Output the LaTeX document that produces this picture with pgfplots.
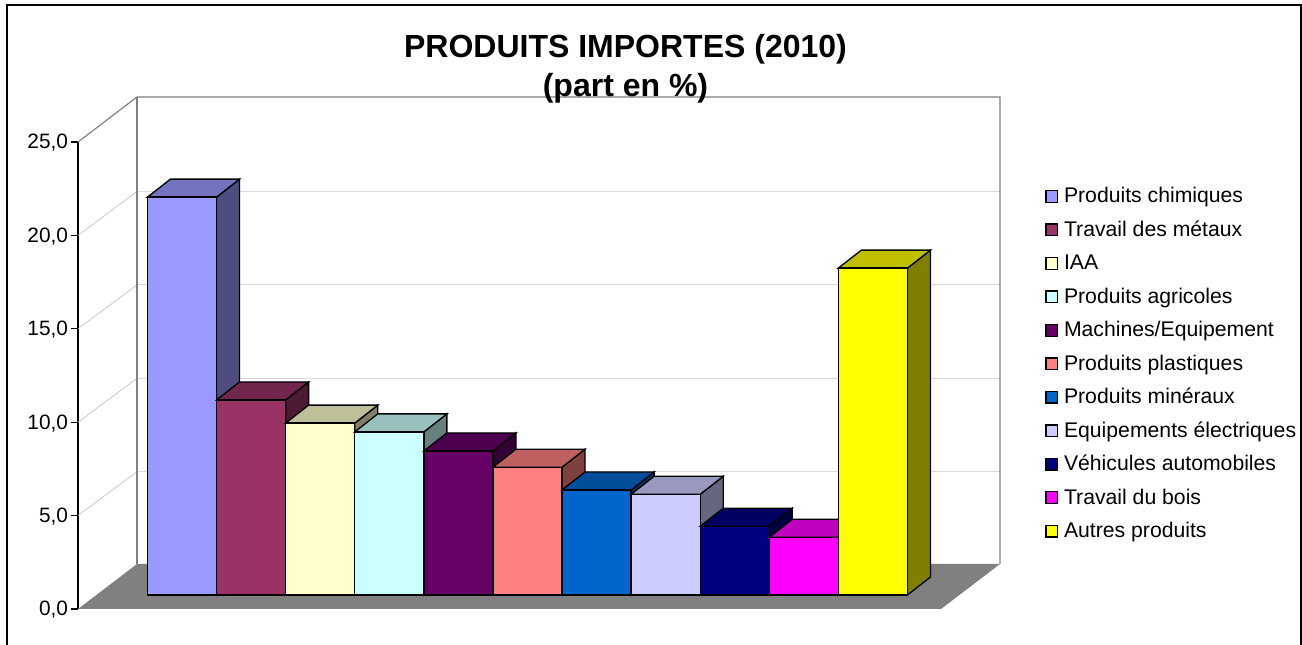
\documentclass[border=0pt]{standalone}
\usepackage{fontspec}
\setmainfont{Liberation Sans}
\usepackage{pgfplots}
\pgfplotsset{compat=1.18}
\definecolor{cA}{HTML}{9999FF}\definecolor{tA}{HTML}{7373BF}\definecolor{sA}{HTML}{4D4D80}
\definecolor{cB}{HTML}{993366}\definecolor{tB}{HTML}{73264D}\definecolor{sB}{HTML}{4D1A33}
\definecolor{cC}{HTML}{FFFFCC}\definecolor{tC}{HTML}{BFBF99}\definecolor{sC}{HTML}{808066}
\definecolor{cD}{HTML}{CCFFFF}\definecolor{tD}{HTML}{99BFBF}\definecolor{sD}{HTML}{668080}
\definecolor{cE}{HTML}{660066}\definecolor{tE}{HTML}{4D004D}\definecolor{sE}{HTML}{330033}
\definecolor{cF}{HTML}{FF8080}\definecolor{tF}{HTML}{BF6060}\definecolor{sF}{HTML}{804040}
\definecolor{cG}{HTML}{0066CC}\definecolor{tG}{HTML}{004D99}\definecolor{sG}{HTML}{003366}
\definecolor{cH}{HTML}{CCCCFF}\definecolor{tH}{HTML}{9999BF}\definecolor{sH}{HTML}{666680}
\definecolor{cI}{HTML}{000080}\definecolor{tI}{HTML}{000060}\definecolor{sI}{HTML}{000040}
\definecolor{cJ}{HTML}{FF00FF}\definecolor{tJ}{HTML}{BF00BF}\definecolor{sJ}{HTML}{800080}
\definecolor{cK}{HTML}{FFFF00}\definecolor{tK}{HTML}{BFBF00}\definecolor{sK}{HTML}{808000}
% #1 left, #2 left+depth, #3 right, #4 right+depth, #5 centre, #6 value, #7 value+depth, #8 colour letter, #9 name
\newcommand\threedbar[9]{%
  \addplot[fill=s#8,draw=black,line width=1pt,forget plot] coordinates {(#3,0) (#4,0.964) (#4,#7) (#3,#6)} -- cycle;
  \addplot[fill=t#8,draw=black,line width=1pt,forget plot] coordinates {(#1,#6) (#2,#7) (#4,#7) (#3,#6)} -- cycle;
  \addplot[ybar,bar width=1,bar shift=0pt,fill=c#8,draw=black,line width=1pt,
    legend image code/.code={\draw[fill=c#8,draw=black,line width=1pt] (0pt,-3.3pt) rectangle (8.8pt,5.5pt);}]
    coordinates {(#5,#6)};
  \addlegendentry{#9}
}
\begin{document}
\begin{tikzpicture}[x=0.75pt,y=0.75pt]
\useasboundingbox (0,0) rectangle (1302,645);
\draw[line width=1.2pt,black] (7,0) -- (7,640) -- (1301,640) -- (1301,0);
% walls, floor and value axis
\begin{axis}[
  at={(58.5pt,27pt)},anchor=origin,scale only axis,width=647.25pt,height=350.25pt,
  xmin=0,xmax=863,ymin=0,ymax=25,clip=false,
  axis x line=none,axis y line=left,axis line style={-,black,line width=0.9pt},
  ytick={0,5,10,15,20,25},
  tick style={black,line width=0.9pt},
  major tick length=5pt,
  tick align=outside,
  y tick label style={font=\fontsize{15.6}{18}\selectfont,xshift=1pt,yshift=-0.7pt},
  /pgf/number format/.cd,fixed,fixed zerofill,precision=1,use comma,assume math mode=true,
]
\addplot[fill=white,draw=none] coordinates {(59,2.409) (59,27.409) (922,27.409) (922,2.409)} -- cycle;
\addplot[fill=black!50,draw=none] coordinates {(0,0) (59,2.409) (922,2.409) (863,0)} -- cycle;
\addplot[black!15,line width=0.8pt] coordinates {(59,7.35) (922,7.35)};
\addplot[black!15,line width=0.8pt] coordinates {(59,12.35) (922,12.35)};
\addplot[black!15,line width=0.8pt] coordinates {(59,17.35) (922,17.35)};
\addplot[black!15,line width=0.8pt] coordinates {(59,22.35) (922,22.35)};
\addplot[black!25,line width=0.5pt] coordinates {(0,5) (59,7.35)};
\addplot[black!25,line width=0.5pt] coordinates {(0,10) (59,12.35)};
\addplot[black!25,line width=0.5pt] coordinates {(0,15) (59,17.35)};
\addplot[black!25,line width=0.5pt] coordinates {(0,20) (59,22.35)};
\addplot[black!50,line width=0.9pt] coordinates {(0,25) (59,27.409) (922,27.409) (922,2.409)};
\addplot[black!50,line width=1.1pt] coordinates {(59,2.409) (59,27.409)};
\end{axis}
% bars
\begin{axis}[
  at={(110.6pt,37.5pt)},anchor=origin,scale only axis,width=570pt,height=350.25pt,
  xmin=0,xmax=11,ymin=0,ymax=25,clip=false,
  hide axis,
  title={PRODUITS IMPORTES (2010)\\(part en \%)},
  title style={at={(axis description cs:0.6290,1.109)},anchor=center,align=center,
    font=\fontsize{24}{29.3}\selectfont\bfseries,inner sep=0pt},
  legend cell align=left,
  legend style={at={(axis description cs:1.1809,0.8715)},anchor=north west,draw=none,fill=none,
    inner sep=0pt,row sep=10.6pt,column sep=4.3pt,
    font=\fontsize{15.9}{18}\selectfont,
    nodes={inner sep=0pt,text height=11pt,text depth=3.5pt}},
]
\threedbar{0}{0.333}{1}{1.333}{0.5}{21.3}{22.264}{A}{Produits chimiques}
\threedbar{1}{1.333}{2}{2.333}{1.5}{10.44}{11.404}{B}{Travail des métaux}
\threedbar{2}{2.333}{3}{3.333}{2.5}{9.2}{10.164}{C}{IAA}
\threedbar{3}{3.333}{4}{4.333}{3.5}{8.73}{9.694}{D}{Produits agricoles}
\threedbar{4}{4.333}{5}{5.333}{4.5}{7.71}{8.674}{E}{Machines/Equipement}
\threedbar{5}{5.333}{6}{6.333}{5.5}{6.84}{7.804}{F}{Produits plastiques}
\threedbar{6}{6.333}{7}{7.333}{6.5}{5.62}{6.584}{G}{Produits minéraux}
\threedbar{7}{7.333}{8}{8.333}{7.5}{5.39}{6.354}{H}{Equipements électriques}
\threedbar{8}{8.333}{9}{9.333}{8.5}{3.68}{4.644}{I}{Véhicules automobiles}
\threedbar{9}{9.333}{10}{10.333}{9.5}{3.09}{4.054}{J}{Travail du bois}
\threedbar{10}{10.333}{11}{11.333}{10.5}{17.5}{18.464}{K}{Autres produits}
\end{axis}
\end{tikzpicture}
\end{document}
